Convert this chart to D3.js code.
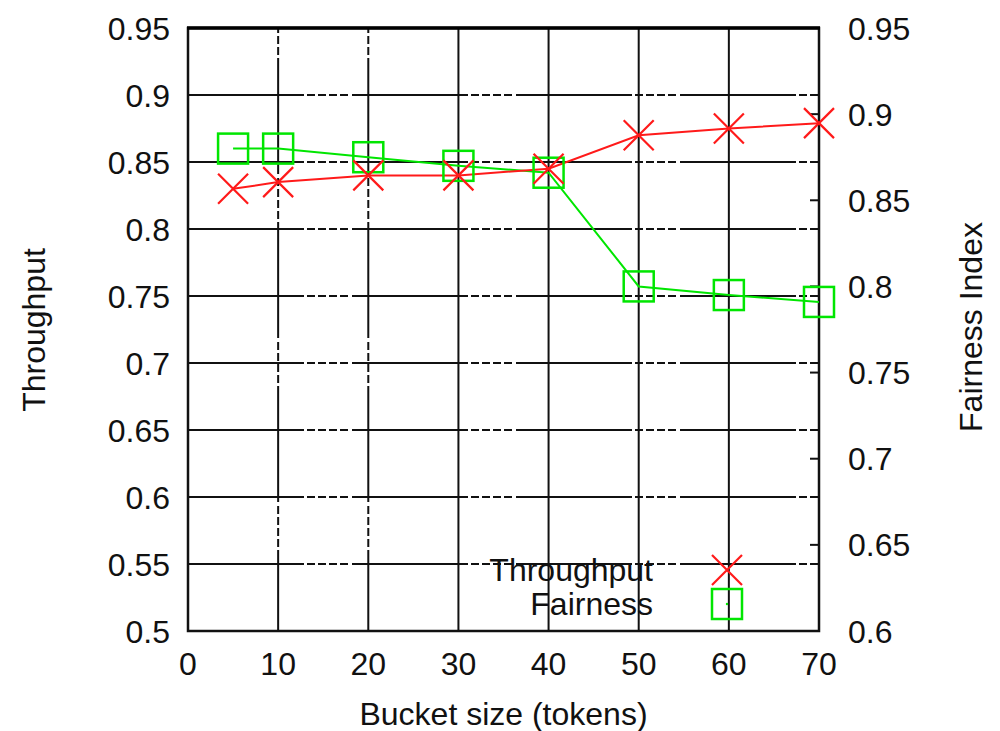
<!doctype html>
<html lang="en">

<head>
  <meta charset="UTF-8">
  <title>Throughput and fairness vs bucket size</title>
  <script type="text/javascript" src="https://cdn.jsdelivr.net/npm/d3@7"></script>
  <style>
    body {
      margin: 0;
      background: #fff;
    }

    text {
      font-family: "Liberation Sans", Arial, sans-serif;
      fill: #111;
    }

    .grid line {
      stroke: #111;
      stroke-width: 2px;
    }
  </style>
</head>

<body>

</body>
<script type="text/javascript">
  // data
  var bucketSizes = [5, 10, 20, 30, 40, 50, 60, 70];
  var throughput = [0.83, 0.835, 0.84, 0.84, 0.845, 0.87, 0.875, 0.879];
  var fairness = [0.88, 0.88, 0.875, 0.87, 0.866, 0.80, 0.795, 0.791];

  var xTicks = [0, 10, 20, 30, 40, 50, 60, 70];
  var yTicks = [0.5, 0.55, 0.6, 0.65, 0.7, 0.75, 0.8, 0.85, 0.9, 0.95];
  var y2Ticks = [0.6, 0.65, 0.7, 0.75, 0.8, 0.85, 0.9, 0.95];
  var seriesNames = ["Throughput", "Fairness"];

  var margin = {
      top: 28,
      right: 181,
      bottom: 100,
      left: 188
    },
    width = 1000 - margin.left - margin.right,
    height = 731 - margin.top - margin.bottom;

  var fs = 32;

  var xScale = d3.scaleLinear()
    .domain([0, 70])
    .range([0, width]);

  var yScale = d3.scaleLinear()
    .domain([0.5, 0.95])
    .range([height, 0]);

  var y2Scale = d3.scaleLinear()
    .domain([0.6, 0.95])
    .range([height, 0]);

  var svg = d3.select("body").append("svg")
    .attr("width", 1000)
    .attr("height", 731)
    .append("g")
    .attr("transform", "translate(" + margin.left + "," + margin.top + ")");

  // grid: gnuplot style long solid runs broken by short dashes
  var gridDash = "116,3,8,3,8,3,8,3,8,4";

  var grid = svg.append("g").attr("class", "grid");

  grid.selectAll(".hgrid")
    .data(yTicks.slice(1, -1))
    .enter().append("line")
    .attr("class", "hgrid")
    .attr("x1", 0)
    .attr("x2", width)
    .attr("y1", function(d) { return yScale(d); })
    .attr("y2", function(d) { return yScale(d); })
    .attr("stroke-dasharray", gridDash);

  grid.selectAll(".vgrid")
    .data(xTicks.slice(1, -1))
    .enter().append("line")
    .attr("class", "vgrid")
    .attr("x1", function(d) { return xScale(d); })
    .attr("x2", function(d) { return xScale(d); })
    .attr("y1", height)
    .attr("y2", 0)
    .attr("stroke-dasharray", function(d) { return d <= 20 ? gridDash : null; })
    .attr("stroke-dashoffset", 35);

  // right axis ticks (inward)
  svg.append("g")
    .selectAll("line")
    .data(y2Ticks.slice(1, -1))
    .enter().append("line")
    .attr("x1", width - 9)
    .attr("x2", width)
    .attr("y1", function(d) { return y2Scale(d); })
    .attr("y2", function(d) { return y2Scale(d); })
    .style("stroke", "#111")
    .style("stroke-width", 2);

  // frame
  svg.append("rect")
    .attr("x", 0)
    .attr("y", 0)
    .attr("width", width)
    .attr("height", height)
    .style("fill", "none")
    .style("stroke", "#111")
    .style("stroke-width", 2.5);

  svg.append("line")
    .attr("x1", -1)
    .attr("x2", width + 1)
    .attr("y1", 0)
    .attr("y2", 0)
    .style("stroke", "#000")
    .style("stroke-width", 3.5);

  // tick labels
  svg.append("g")
    .selectAll("text")
    .data(yTicks)
    .enter().append("text")
    .attr("x", -18)
    .attr("y", function(d) { return yScale(d) + fs * 0.36; })
    .attr("text-anchor", "end")
    .attr("font-size", fs)
    .text(function(d) { return d; });

  svg.append("g")
    .selectAll("text")
    .data(y2Ticks)
    .enter().append("text")
    .attr("x", width + 29)
    .attr("y", function(d) { return y2Scale(d) + fs * 0.36; })
    .attr("text-anchor", "start")
    .attr("font-size", fs)
    .text(function(d) { return d; });

  svg.append("g")
    .selectAll("text")
    .data(xTicks)
    .enter().append("text")
    .attr("x", function(d) { return xScale(d); })
    .attr("y", height + 44)
    .attr("text-anchor", "middle")
    .attr("font-size", fs)
    .text(function(d) { return d; });

  // axis titles
  svg.append("text")
    .attr("x", width / 2)
    .attr("y", height + 94)
    .attr("text-anchor", "middle")
    .attr("font-size", fs)
    .text("Bucket size (tokens)");

  svg.append("text")
    .attr("transform", "translate(" + (45 - margin.left) + "," + (330 - margin.top) + ") rotate(-90)")
    .attr("text-anchor", "middle")
    .attr("font-size", fs)
    .text("Throughput");

  svg.append("text")
    .attr("transform", "translate(" + (982 - margin.left) + "," + (327 - margin.top) + ") rotate(-90)")
    .attr("text-anchor", "middle")
    .attr("font-size", fs)
    .text("Fairness Index");

  // series
  var red = "#ff1a1a",
    green = "#00e600";

  var thrLine = d3.line()
    .x(function(d, i) { return xScale(bucketSizes[i]); })
    .y(function(d) { return yScale(d); });

  var fairLine = d3.line()
    .x(function(d, i) { return xScale(bucketSizes[i]); })
    .y(function(d) { return y2Scale(d); });

  svg.append("path")
    .datum(fairness)
    .attr("d", fairLine)
    .style("fill", "none")
    .style("stroke", green)
    .style("stroke-width", 2);

  svg.append("path")
    .datum(throughput)
    .attr("d", thrLine)
    .style("fill", "none")
    .style("stroke", red)
    .style("stroke-width", 2);

  var cross = 15,
    sq = 15;

  function drawCross(g, cx, cy) {
    g.append("path")
      .attr("d", "M" + (cx - cross) + "," + (cy - cross) + "L" + (cx + cross) + "," + (cy + cross) +
        "M" + (cx - cross) + "," + (cy + cross) + "L" + (cx + cross) + "," + (cy - cross))
      .style("fill", "none")
      .style("stroke", red)
      .style("stroke-width", 2.2);
  }

  function drawSquare(g, cx, cy) {
    g.append("rect")
      .attr("x", cx - sq)
      .attr("y", cy - sq)
      .attr("width", sq * 2)
      .attr("height", sq * 2)
      .style("fill", "none")
      .style("stroke", green)
      .style("stroke-width", 2.5);
  }

  var marks = svg.append("g");
  fairness.forEach(function(d, i) {
    drawSquare(marks, xScale(bucketSizes[i]), y2Scale(d));
  });
  throughput.forEach(function(d, i) {
    drawCross(marks, xScale(bucketSizes[i]), yScale(d));
  });

  // legend
  var legend = svg.append("g")
    .attr("transform", "translate(" + (653 - margin.left) + "," + (570 - margin.top) + ")");

  legend.selectAll("text")
    .data(seriesNames)
    .enter().append("text")
    .attr("x", 0)
    .attr("y", function(d, i) { return i * 34 + 11; })
    .attr("text-anchor", "end")
    .attr("font-size", fs)
    .text(function(d) { return d; });

  drawCross(legend, 74, 0);
  drawSquare(legend, 74, 34);
  legend.append("circle")
    .attr("cx", 74)
    .attr("cy", 34)
    .attr("r", 1.2)
    .style("fill", green);
</script>

</html>
